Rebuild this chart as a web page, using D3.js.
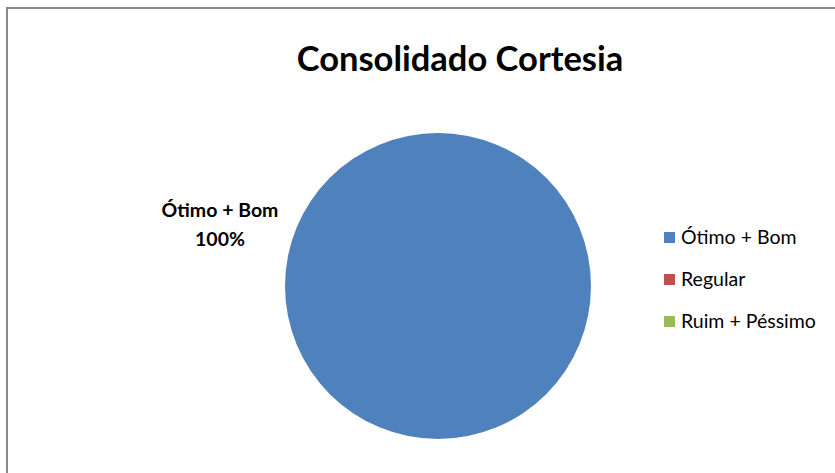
<!DOCTYPE html>
<html>
<head>
<meta charset="utf-8">
<script src="https://cdn.jsdelivr.net/npm/d3@7"></script>
<style>
  body { margin: 0; background: #fff; }
  text { font-family: Lato, "Open Sans", sans-serif; }
</style>
</head>
<body>
<div id="chart"></div>
<script>
// Data
const categories = ["Ótimo + Bom", "Regular", "Ruim + Péssimo"];
const values = [100, 0, 0];
const colors = ["#4F81BD", "#C0504D", "#9BBB59"];
const title = "Consolidado Cortesia";

const width = 835, height = 473;

const svg = d3.select("#chart")
  .append("svg")
    .attr("width", width)
    .attr("height", height);

// Frame (extends past the right and bottom edge)
svg.append("rect")
  .attr("x", 7)
  .attr("y", 8)
  .attr("width", 840)
  .attr("height", 480)
  .style("fill", "#fff")
  .style("stroke", "#898989")
  .style("stroke-width", 2);

// Title
svg.append("text")
  .attr("x", 460)
  .attr("y", 71)
  .attr("text-anchor", "middle")
  .style("font-size", "34.5px")
  .style("font-weight", "bold")
  .text(title);

const data = categories.map((c, i) => ({ category: c, value: values[i] }));

const color = d3.scaleOrdinal()
  .domain(categories)
  .range(colors);

const cx = 438, cy = 286, radius = 153;

const pie = d3.pie()
  .sort(null)
  .value(d => d.value);

const arc = d3.arc()
  .innerRadius(0)
  .outerRadius(radius);

const g = svg.append("g")
  .attr("transform", `translate(${cx}, ${cy})`);

g.selectAll("path")
  .data(pie(data).filter(d => d.value > 0))
  .enter()
  .append("path")
    .attr("d", arc)
    .style("fill", d => color(d.data.category));

// Data label (outside, left of the pie)
const labelX = 220, labelY = 217;
data.filter(d => d.value > 0).forEach(d => {
  const t = svg.append("text")
    .attr("text-anchor", "middle")
    .style("font-size", "19.5px")
    .style("font-weight", "bold");
  t.append("tspan").attr("x", labelX).attr("y", labelY).text(d.category);
  t.append("tspan").attr("x", labelX).attr("dy", 29).text(d3.format(".0%")(d.value / d3.sum(values)));
});

// Legend
const legend = svg.append("g")
  .attr("transform", "translate(664, 237)");

const item = legend.selectAll("g")
  .data(categories)
  .enter()
  .append("g")
    .attr("transform", (d, i) => `translate(0, ${i * 42})`);

item.append("rect")
  .attr("x", 0)
  .attr("y", -5)
  .attr("width", 11)
  .attr("height", 11)
  .style("fill", d => color(d));

item.append("text")
  .attr("x", 17)
  .attr("y", 7)
  .style("font-size", "19.5px")
  .text(d => d);
</script>
</body>
</html>
